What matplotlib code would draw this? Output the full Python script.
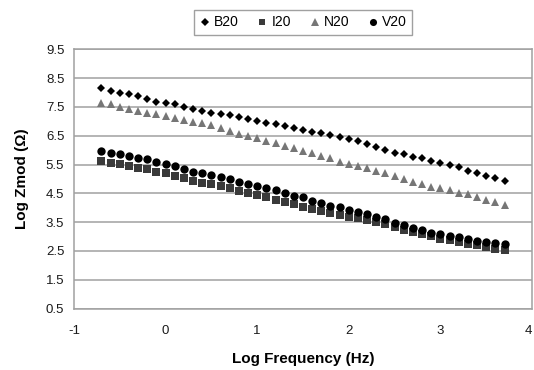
import matplotlib
matplotlib.use("Agg")
import matplotlib.pyplot as plt
from matplotlib.lines import Line2D

plt.rcParams['font.family'] = ['Liberation Sans', 'DejaVu Sans']

log_freq = [-0.70, -0.60, -0.50, -0.40, -0.30, -0.20, -0.10, 0.00, 0.10, 0.20,
            0.30, 0.40, 0.50, 0.60, 0.70, 0.80, 0.90, 1.00, 1.10, 1.20,
            1.30, 1.40, 1.50, 1.60, 1.70, 1.80, 1.90, 2.00, 2.10, 2.20,
            2.30, 2.40, 2.50, 2.60, 2.70, 2.80, 2.90, 3.00, 3.10, 3.20,
            3.30, 3.40, 3.50, 3.60, 3.70]

b20 = [8.15, 8.05, 7.99, 7.94, 7.88, 7.77, 7.68, 7.65, 7.59, 7.50,
       7.43, 7.37, 7.30, 7.26, 7.22, 7.14, 7.08, 7.01, 6.95, 6.90,
       6.84, 6.76, 6.70, 6.63, 6.59, 6.53, 6.45, 6.38, 6.30, 6.22,
       6.10, 5.99, 5.91, 5.86, 5.77, 5.71, 5.62, 5.56, 5.47, 5.40,
       5.28, 5.20, 5.11, 5.02, 4.91]

i20 = [5.63, 5.56, 5.51, 5.45, 5.37, 5.33, 5.25, 5.19, 5.10, 5.02,
       4.94, 4.87, 4.82, 4.75, 4.67, 4.59, 4.50, 4.44, 4.36, 4.27,
       4.21, 4.12, 4.03, 3.95, 3.90, 3.83, 3.75, 3.69, 3.63, 3.57,
       3.50, 3.44, 3.33, 3.22, 3.15, 3.07, 3.01, 2.93, 2.87, 2.81,
       2.75, 2.70, 2.64, 2.58, 2.53]

n20 = [7.65, 7.59, 7.51, 7.43, 7.37, 7.30, 7.24, 7.19, 7.10, 7.04,
       6.99, 6.93, 6.87, 6.78, 6.66, 6.57, 6.50, 6.41, 6.33, 6.24,
       6.14, 6.06, 5.98, 5.89, 5.80, 5.72, 5.60, 5.52, 5.45, 5.37,
       5.26, 5.21, 5.10, 4.99, 4.90, 4.84, 4.73, 4.67, 4.60, 4.52,
       4.47, 4.38, 4.27, 4.20, 4.10]

v20 = [5.97, 5.91, 5.85, 5.78, 5.74, 5.68, 5.60, 5.52, 5.45, 5.33,
       5.25, 5.19, 5.13, 5.06, 4.99, 4.90, 4.82, 4.76, 4.70, 4.61,
       4.52, 4.42, 4.36, 4.25, 4.17, 4.07, 4.01, 3.92, 3.84, 3.77,
       3.69, 3.60, 3.48, 3.40, 3.30, 3.21, 3.13, 3.08, 3.02, 2.97,
       2.91, 2.86, 2.82, 2.78, 2.74]

series_names = ["B20", "I20", "N20", "V20"]
x_ticks = [-1, 0, 1, 2, 3, 4]
y_ticks = [0.5, 1.5, 2.5, 3.5, 4.5, 5.5, 6.5, 7.5, 8.5, 9.5]

fig = plt.figure(figsize=(5.34, 3.70), dpi=100)
ax = fig.add_axes([74/534, 1 - 308.5/370, (532-74)/534, (308.5-49.3)/370])

styles = [
    dict(marker='D', color='black', ms=4.3),
    dict(marker='s', color='#3a3a3a', ms=5.8),
    dict(marker='^', color='#767676', ms=6.0),
    dict(marker='o', color='black', ms=6.0),
]
data = [b20, i20, n20, v20]
for idx in [0, 2, 1, 3]:
    st = styles[idx]
    ax.plot(log_freq, data[idx], linestyle='none', marker=st['marker'],
            color=st['color'], markersize=st['ms'], markeredgewidth=0,
            label=series_names[idx], zorder=3)

ax.set_xlim(-1, 4)
ax.set_ylim(0.5, 9.5)
ax.set_xticks(x_ticks)
ax.set_xticklabels([str(t) for t in x_ticks])
ax.set_yticks(y_ticks)
ax.set_yticklabels([f"{t:.1f}" for t in y_ticks])
ax.tick_params(axis='both', length=0, labelsize=9.5, colors='#1a1a1a', pad=7)
ax.tick_params(axis='x', pad=12)
xlabels = ax.get_xticklabels()
xlabels[-1].set_horizontalalignment('right')
ax.yaxis.grid(True, color='#a0a0a0', linewidth=1.1)
ax.set_axisbelow(True)
for sp in ax.spines.values():
    sp.set_color('#a0a0a0')
    sp.set_linewidth(1.1)

ax.set_xlabel("Log Frequency (Hz)", fontsize=11, fontweight='bold', labelpad=11)
ax.set_ylabel("Log Zmod (Ω)", fontsize=11, fontweight='bold', labelpad=12)

handles = [Line2D([], [], linestyle='none', marker=s['marker'], color=s['color'],
                  markersize=s['ms'] * 0.85, markeredgewidth=0) for s in styles]
leg = fig.legend(handles, series_names, loc='center', bbox_to_anchor=(303/534, 1 - 22.5/370),
                 ncol=4, frameon=True, fancybox=False, fontsize=10,
                 handlelength=0.8, handletextpad=0.25, columnspacing=1.3,
                 borderpad=0.4)
leg.get_frame().set_edgecolor('#888888')
leg.get_frame().set_linewidth(1.0)

fig.savefig("out.png", dpi=100)
